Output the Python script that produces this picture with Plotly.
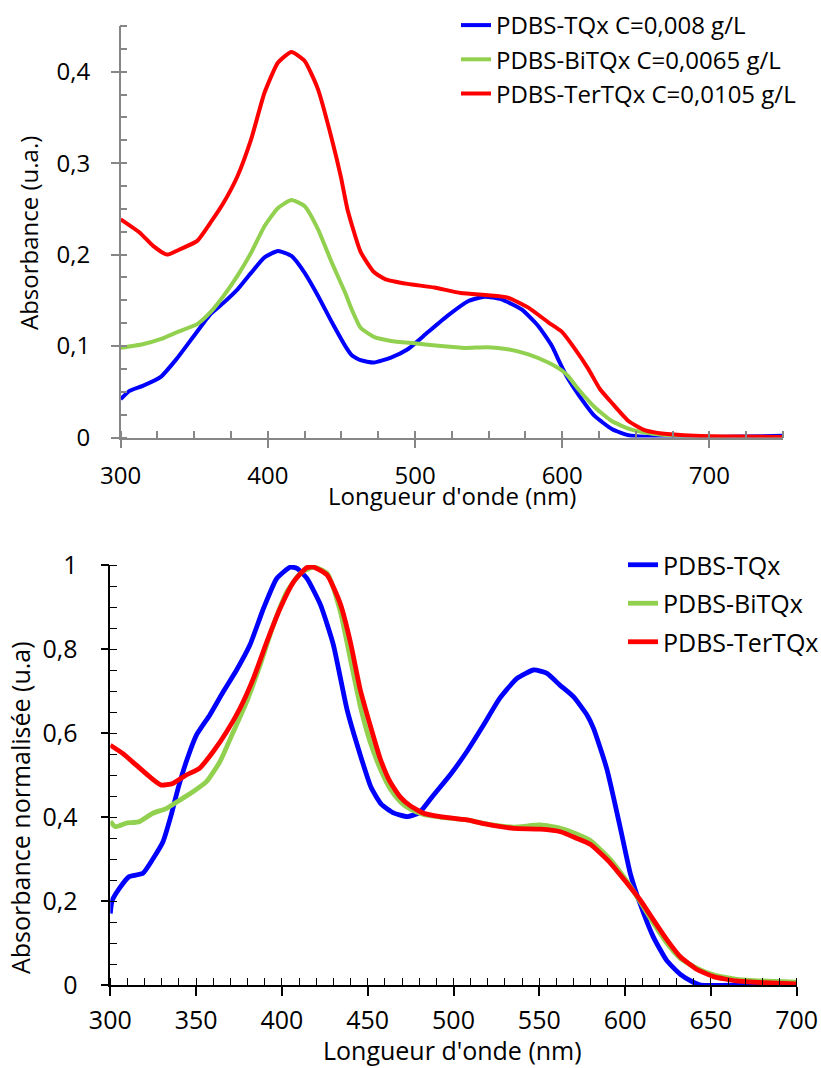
import plotly.graph_objects as go

# ---------------- data: top chart (absorbance) ----------------
top_series_names = ["PDBS-TQx C=0,008 g/L", "PDBS-BiTQx C=0,0065 g/L", "PDBS-TerTQx C=0,0105 g/L"]

top_tqx_wl = [300, 306, 315, 327, 338, 349.7, 361, 370, 379.4, 388.6, 397.7, 406.9, 416, 425, 434, 443.5,
              452.6, 457, 463, 472, 483.6, 495, 508.6, 522, 536, 547.4, 558.7, 572.4, 583.7, 593, 598, 603,
              611, 622, 634, 645, 656, 680, 700, 725, 750]
top_tqx_abs = [0.042, 0.051, 0.0565, 0.066, 0.086, 0.111, 0.135, 0.1475, 0.162, 0.180, 0.197, 0.204, 0.1985,
               0.180, 0.155, 0.126, 0.100, 0.090, 0.0845, 0.082, 0.0874, 0.0965, 0.115, 0.133, 0.149, 0.154,
               0.151, 0.140, 0.122, 0.100, 0.083, 0.067, 0.047, 0.0236, 0.009, 0.0025, 0.0007, 0.0, 0.0005,
               0.001, 0.002]

top_bitqx_wl = [300, 315, 327, 338, 352, 361, 370, 379.4, 388.6, 397.7, 406.9, 416, 425, 434, 443.5, 452.6,
                457, 463, 472, 483.6, 499.5, 517.7, 533.6, 549.5, 563, 577, 590.5, 600, 604, 611, 622.3,
                633.6, 645, 656, 667.6, 690, 720, 750]
top_bitqx_abs = [0.098, 0.102, 0.1075, 0.115, 0.124, 0.137, 0.155, 0.177, 0.202, 0.231, 0.251, 0.2597, 0.253,
                 0.228, 0.191, 0.158, 0.140, 0.120, 0.110, 0.1056, 0.103, 0.100, 0.098, 0.0987, 0.0965, 0.091,
                 0.082, 0.073, 0.067, 0.0528, 0.0328, 0.018, 0.0098, 0.0055, 0.003, 0.001, 0.0005, 0.0005]

top_tertqx_wl = [300, 313, 322, 331.4, 340.5, 352, 361, 370, 379.4, 388.6, 397.7, 406.9, 416, 425, 434, 443.5,
                 449.6, 454, 463, 472, 480, 495, 513, 531, 549.6, 563, 577, 590.5, 599.5, 608.6, 617.7, 625.6,
                 633.6, 645, 656, 667.6, 690, 720, 750]
top_tertqx_abs = [0.2386, 0.224, 0.2095, 0.200, 0.206, 0.215, 0.235, 0.257, 0.286, 0.326, 0.377, 0.410, 0.4215,
                  0.4117, 0.381, 0.326, 0.285, 0.250, 0.203, 0.181, 0.173, 0.168, 0.164, 0.158, 0.1555, 0.153,
                  0.142, 0.126, 0.116, 0.097, 0.075, 0.053, 0.038, 0.018, 0.008, 0.0044, 0.002, 0.001, 0.0005]

top_ytick_vals = [0, 0.1, 0.2, 0.3, 0.4]
top_ytick_text = ["0", "0,1", "0,2", "0,3", "0,4"]
top_xtick_vals = [300, 400, 500, 600, 700]
top_xtick_text = ["300", "400", "500", "600", "700"]

# ---------------- data: bottom chart (normalised absorbance) ----------------
bot_series_names = ["PDBS-TQx", "PDBS-BiTQx", "PDBS-TerTQx"]

bot_tqx_wl = [300, 301, 305.3, 311, 319, 324.8, 330.7, 335.5, 339.5, 344.3, 350.2, 358, 365.8, 373.6, 381.4,
              389.3, 397, 404.9, 408.8, 414.6, 422.5, 430, 438, 445.5, 452, 458, 465, 473, 480, 488.3, 498,
              507.8, 517.5, 527, 537, 546.7, 554.5, 562, 570, 577.8, 581.6, 589.3, 597, 603, 608.7, 616.5,
              624.3, 632, 640, 644, 670, 700]
bot_tqx_abs = [0.17, 0.2, 0.23, 0.258, 0.266, 0.30, 0.341, 0.405, 0.468, 0.532, 0.595, 0.643, 0.698, 0.75,
               0.81, 0.897, 0.968, 0.995, 0.992, 0.968, 0.905, 0.81, 0.655, 0.55, 0.47, 0.43, 0.41, 0.401,
               0.41, 0.452, 0.50, 0.556, 0.619, 0.683, 0.73, 0.75, 0.742, 0.714, 0.686, 0.643, 0.611, 0.515,
               0.378, 0.266, 0.194, 0.114, 0.058, 0.026, 0.006, 0.0, 0.0, 0.0]

bot_bitqx_wl = [300, 303, 309, 317, 324.8, 332.6, 340.4, 348.2, 356, 363.9, 371.7, 379.5, 387.3, 395, 403,
                410.7, 418.5, 426.4, 434, 439.7, 445.5, 451.4, 457.2, 463, 468.9, 474.7, 482.5, 492.2, 507.8,
                521.4, 535, 550.6, 562.3, 572, 579.7, 591.3, 601, 608.7, 616.5, 624.3, 632, 641.7, 651.5, 665,
                680.6, 700]
bot_bitqx_abs = [0.389, 0.377, 0.385, 0.389, 0.409, 0.42, 0.44, 0.46, 0.484, 0.532, 0.603, 0.675, 0.762,
                 0.857, 0.937, 0.98, 0.995, 0.98, 0.89, 0.78, 0.667, 0.579, 0.516, 0.468, 0.437, 0.419, 0.406,
                 0.400, 0.393, 0.382, 0.376, 0.381, 0.373, 0.359, 0.344, 0.299, 0.247, 0.199, 0.1475, 0.0997,
                 0.064, 0.04, 0.024, 0.0136, 0.0096, 0.007]

bot_tertqx_wl = [300, 307, 315, 322.9, 329.7, 336.5, 344.3, 352, 360, 367.8, 375.6, 383.4, 391.2, 399, 406.8,
                 414.6, 418.5, 426.4, 434, 440, 445.5, 451.4, 457.2, 463, 468.9, 474.7, 482.5, 492.2, 507.8,
                 521.4, 535, 550.6, 562.3, 572, 579.7, 591.3, 601, 608.7, 616.5, 624.3, 632, 641.7, 651.5, 665,
                 680.6, 700]
bot_tertqx_abs = [0.571, 0.552, 0.524, 0.496, 0.476, 0.48, 0.50, 0.516, 0.556, 0.603, 0.659, 0.73, 0.817,
                  0.897, 0.96, 0.994, 0.995, 0.976, 0.908, 0.815, 0.706, 0.619, 0.54, 0.484, 0.448, 0.427,
                  0.409, 0.401, 0.393, 0.381, 0.373, 0.371, 0.365, 0.349, 0.335, 0.291, 0.243, 0.203, 0.155,
                  0.108, 0.068, 0.0375, 0.02, 0.0096, 0.0056, 0.0024]

bot_ytick_vals = [0, 0.2, 0.4, 0.6, 0.8, 1]
bot_ytick_text = ["0", "0,2", "0,4", "0,6", "0,8", "1"]
bot_xtick_vals = [300, 350, 400, 450, 500, 550, 600, 650, 700]
bot_xtick_text = ["300", "350", "400", "450", "500", "550", "600", "650", "700"]

x_title = "Longueur d'onde (nm)"
top_y_title = "Absorbance (u.a.)"
bot_y_title = "Absorbance normalisée (u.a)"

colors = ["#0000FF", "#92D050", "#FF0000"]
FONT = "Open Sans"
W, H = 821, 1068

fig = go.Figure()

top_data = [(top_tqx_wl, top_tqx_abs), (top_bitqx_wl, top_bitqx_abs), (top_tertqx_wl, top_tertqx_abs)]
for i, ((xs, ys), name, c) in enumerate(zip(top_data, top_series_names, colors)):
    fig.add_trace(go.Scatter(x=xs, y=ys, name=name, mode="lines",
                             line=dict(color=c, width=4, shape="spline", smoothing=0.5),
                             xaxis="x", yaxis="y", legend="legend", legendgroup=f"top{i}"))

bot_data = [(bot_tqx_wl, bot_tqx_abs), (bot_bitqx_wl, bot_bitqx_abs), (bot_tertqx_wl, bot_tertqx_abs)]
for i, ((xs, ys), name, c) in enumerate(zip(bot_data, bot_series_names, colors)):
    fig.add_trace(go.Scatter(x=xs, y=ys, name=name, mode="lines",
                             line=dict(color=c, width=4.8, shape="spline", smoothing=0.5),
                             xaxis="x2", yaxis="y2", legend="legend2", legendgroup=f"bot{i}"))

def px_x(p):
    return p / W

def px_y(p):
    return 1 - p / H

top_axis_color = "#868686"
bot_axis_color = "#000000"

fig.update_layout(
    width=W, height=H, autosize=False,
    margin=dict(l=0, r=0, t=0, b=0, autoexpand=False),
    paper_bgcolor="white", plot_bgcolor="white",
    font=dict(family=FONT, size=24, color="black"),
    xaxis=dict(domain=[px_x(120.7), px_x(783)], range=[300, 750], anchor="y", automargin=False,
               showline=True, linecolor=top_axis_color, linewidth=1.5, showgrid=False, zeroline=False,
               tickmode="array", tickvals=top_xtick_vals, ticktext=top_xtick_text,
               ticks="outside", ticklen=9, tickwidth=1.5, tickcolor=top_axis_color,
               ticklabelstandoff=7,
               tickfont=dict(family=FONT, size=24, color="black"),
               minor=dict(ticks="inside", dtick=25, tick0=300, ticklen=7, tickwidth=1.5,
                          tickcolor=top_axis_color)),
    yaxis=dict(domain=[px_y(437.5), px_y(26)], range=[0, 0.45], anchor="x", automargin=False,
               showline=True, linecolor=top_axis_color, linewidth=1.5, showgrid=False, zeroline=False,
               tickmode="array", tickvals=top_ytick_vals, ticktext=top_ytick_text,
               ticks="outside", ticklen=8, tickwidth=1.5, tickcolor=top_axis_color,
               ticklabelstandoff=16,
               tickfont=dict(family=FONT, size=24, color="black"),
               minor=dict(ticks="inside", dtick=0.025, tick0=0, ticklen=7, tickwidth=1.5,
                          tickcolor=top_axis_color)),
    xaxis2=dict(domain=[px_x(110.3), px_x(796.7)], range=[300, 700], anchor="y2", automargin=False,
                showline=True, linecolor=bot_axis_color, linewidth=1.5, showgrid=False, zeroline=False,
                tickmode="array", tickvals=bot_xtick_vals, ticktext=bot_xtick_text,
                ticks="outside", ticklen=9, tickwidth=1.5, tickcolor=bot_axis_color,
                ticklabelstandoff=3,
                tickfont=dict(family=FONT, size=25, color="black"),
                minor=dict(ticks="inside", dtick=10, tick0=300, ticklen=7, tickwidth=1.2,
                           tickcolor=bot_axis_color)),
    yaxis2=dict(domain=[px_y(985), px_y(565)], range=[0, 1], anchor="x2", automargin=False,
                showline=True, linecolor=bot_axis_color, linewidth=1.5, showgrid=False, zeroline=False,
                tickmode="array", tickvals=bot_ytick_vals, ticktext=bot_ytick_text,
                ticks="outside", ticklen=8, tickwidth=1.5, tickcolor=bot_axis_color,
                ticklabelstandoff=18,
                tickfont=dict(family=FONT, size=25, color="black"),
                minor=dict(ticks="inside", dtick=0.05, tick0=0, ticklen=7, tickwidth=1.2,
                           tickcolor=bot_axis_color)),
    legend=dict(x=px_x(456), y=px_y(3), xanchor="left", yanchor="top",
                bgcolor="rgba(0,0,0,0)", font=dict(family=FONT, size=24, color="black"),
                tracegroupgap=0),
    legend2=dict(x=px_x(623), y=px_y(542), xanchor="left", yanchor="top",
                 bgcolor="rgba(0,0,0,0)", font=dict(family=FONT, size=25, color="black"),
                 tracegroupgap=3),
    showlegend=True,
)

annotations = [
    dict(text=x_title, x=px_x(452), y=px_y(495), xref="paper", yref="paper", showarrow=False,
         xanchor="center", yanchor="middle", font=dict(family=FONT, size=24, color="black")),
    dict(text=top_y_title, x=px_x(28), y=px_y(233), xref="paper", yref="paper", showarrow=False,
         textangle=-90, xanchor="center", yanchor="middle", font=dict(family=FONT, size=24, color="black")),
    dict(text=x_title, x=px_x(452), y=px_y(1050), xref="paper", yref="paper", showarrow=False,
         xanchor="center", yanchor="middle", font=dict(family=FONT, size=25, color="black")),
    dict(text=bot_y_title, x=px_x(20), y=px_y(808), xref="paper", yref="paper", showarrow=False,
         textangle=-90, xanchor="center", yanchor="middle", font=dict(family=FONT, size=25, color="black")),
]
fig.update_layout(annotations=annotations)

# remove the default page margin so the figure starts at the window's top-left corner
page_css_js = ("document.body.style.margin='0';document.body.style.padding='0';"
               "document.documentElement.style.overflow='hidden';")
fig.write_html("out.html", post_script=page_css_js, config={"displayModeBar": False})
